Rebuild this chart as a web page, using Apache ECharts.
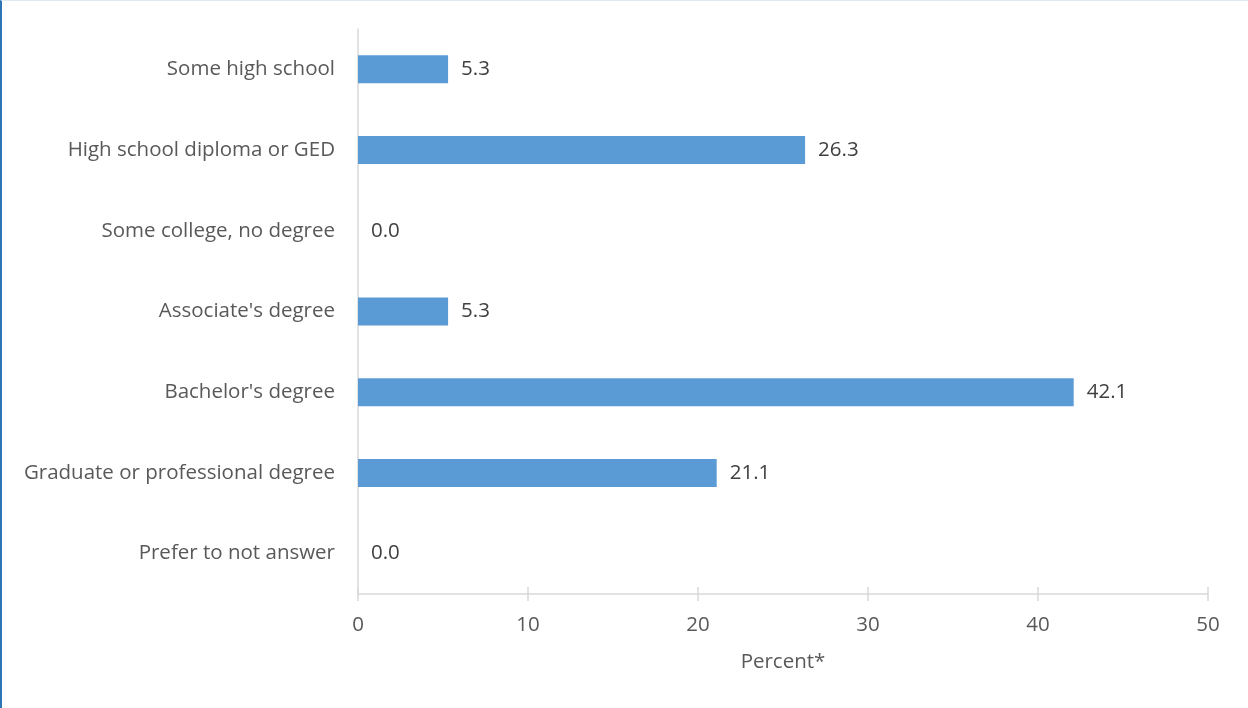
<!DOCTYPE html>
<html><head><meta charset="utf-8">
<script src="https://cdn.jsdelivr.net/npm/echarts@6/dist/echarts.min.js"></script>
<style>
html,body{margin:0;padding:0;background:#fff;}
#frame{position:absolute;left:0;top:0;width:1246px;height:707px;border-left:2px solid #2E75B6;border-top:1px solid #DDEBF7;}
#chart{position:absolute;left:0;top:0;width:1248px;height:708px;}
</style></head>
<body>
<div id="frame"></div>
<div id="chart"></div>
<script>
const categories = ["Some high school","High school diploma or GED","Some college, no degree","Associate's degree","Bachelor's degree","Graduate or professional degree","Prefer to not answer"];
const percentValues = [5.3, 26.3, 0.0, 5.3, 42.1, 21.1, 0.0];
const xTicks = [0, 10, 20, 30, 40, 50];
const axisTitle = "Percent*";

const FONT = "Open Sans";
const FS = 20.5;
const chart = echarts.init(document.getElementById('chart'), null, {renderer:'canvas'});
const gridBox = {left:358, right:40, top:29, bottom:114, containLabel:false};
chart.setOption({
  animation:false,
  textStyle:{fontFamily:FONT},
  grid:gridBox,
  xAxis:[{
    type:'value', min:xTicks[0], max:xTicks[xTicks.length-1], interval:10,
    name:axisTitle, nameLocation:'middle', nameGap:58,
    nameTextStyle:{color:'#595959', fontSize:FS, fontFamily:FONT},
    axisLine:{show:true, lineStyle:{color:'#D9D9D9', width:1.5}},
    axisTick:{show:true, length:7, lineStyle:{color:'#D9D9D9', width:1.5}},
    axisLabel:{color:'#595959', fontSize:FS, margin:21, fontFamily:FONT},
    splitLine:{show:false}
  },{
    type:'value', min:xTicks[0], max:xTicks[xTicks.length-1], interval:10, position:'bottom',
    axisLine:{show:false},
    axisTick:{show:true, inside:true, length:7, lineStyle:{color:'#D9D9D9', width:1.5}},
    axisLabel:{show:false}, splitLine:{show:false}
  }],
  yAxis:{
    type:'category', data:categories, inverse:true,
    axisLine:{show:true, lineStyle:{color:'#D9D9D9', width:1.5}},
    axisTick:{show:false},
    axisLabel:{color:'#595959', fontSize:FS, margin:23, fontFamily:FONT}
  },
  series:[{
    type:'bar', data:percentValues, barWidth:28, xAxisIndex:0,
    itemStyle:{color:'#5B9BD5'},
    label:{show:true, position:'right', distance:13, color:'#404040', fontSize:FS, fontFamily:FONT,
      formatter:p=>p.value.toFixed(1)}
  }]
});
</script>
</body></html>
